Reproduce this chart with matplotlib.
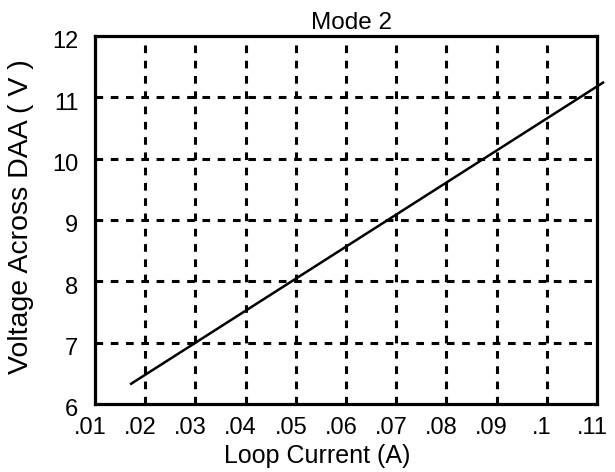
import matplotlib
matplotlib.use("Agg")
import matplotlib.pyplot as plt
from matplotlib.transforms import ScaledTranslation

# values
loop_current = [0.0172, 0.1112]
voltage = [6.33, 11.24]
x_ticks = [0.01, 0.02, 0.03, 0.04, 0.05, 0.06, 0.07, 0.08, 0.09, 0.10, 0.11]
x_labels = [".01", ".02", ".03", ".04", ".05", ".06", ".07", ".08", ".09", ".1", ".11"]
y_ticks = [6, 7, 8, 9, 10, 11, 12]

plt.rcParams['font.family'] = ['Liberation Sans', 'DejaVu Sans']

fig = plt.figure(figsize=(6.15, 4.72), dpi=100)
ax = fig.add_axes([95 / 615, 1 - 404 / 472, (597 - 95) / 615, (404 - 36) / 472])

ax.plot(loop_current, voltage, color='black', lw=1.8, clip_on=False)

ax.set_xlim(0.01, 0.11)
ax.set_ylim(6, 12)
ax.set_xticks(x_ticks)
ax.set_xticklabels(x_labels)
ax.set_yticks(y_ticks)
ax.tick_params(length=0, labelsize=17)
ax.tick_params(axis='x', pad=9)
ax.tick_params(axis='y', pad=12)

# labels sit a little off their ticks in the original
for lab in ax.get_xticklabels():
    lab.set_transform(lab.get_transform() + ScaledTranslation(-5 / 100, 0, fig.dpi_scale_trans))
for lab in ax.get_yticklabels():
    lab.set_transform(lab.get_transform() + ScaledTranslation(0, -4 / 100, fig.dpi_scale_trans))

# interior grid lines only
for xv in x_ticks[1:-1]:
    ax.axvline(xv, color='black', lw=2.2, ls=(0, (2.5, 2.5)), zorder=0)
for yv in y_ticks[1:-1]:
    ax.axhline(yv, color='black', lw=2.2, ls=(0, (2.5, 2.5)), zorder=0)

for s in ax.spines.values():
    s.set_linewidth(2.3)

ax.set_title("Mode 2", fontsize=17.5, pad=5, x=0.511)
ax.set_xlabel("Loop Current (A)", fontsize=18)
ax.xaxis.set_label_coords(0.443, -0.108)
ax.set_ylabel("Voltage Across DAA ( V )", fontsize=20.5)
ax.yaxis.set_label_coords(-0.122, 0.51)

fig.savefig("out.png", dpi=100)
